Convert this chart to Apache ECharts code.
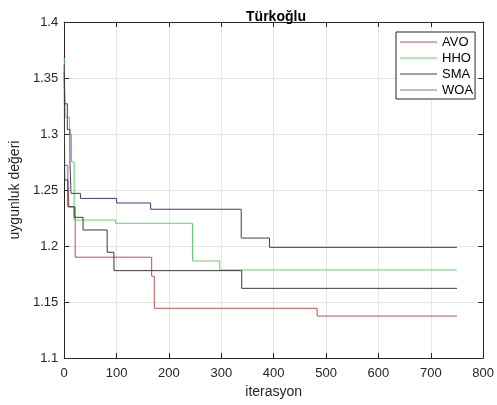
<!DOCTYPE html>
<html>
<head>
<meta charset="utf-8">
<script src="https://cdn.jsdelivr.net/npm/echarts@6/dist/echarts.min.js"></script>
<style>
  html, body { margin: 0; padding: 0; background: #ffffff; }
  #chart { width: 497px; height: 405px; }
</style>
</head>
<body>
<div id="chart"></div>
<script>
// Convergence curves: best fitness per iteration (step functions).
// Each pair gives the iteration where a new best value appears and that value.
const avoIter = [0, 7, 9, 21, 167, 172, 483, 750];
const avoVal  = [1.272, 1.257, 1.235, 1.190, 1.173, 1.1444, 1.1375, 1.1375];

const hhoIter = [0, 2, 10, 14, 19, 98, 245, 297, 750];
const hhoVal  = [1.368, 1.315, 1.300, 1.275, 1.2232, 1.2203, 1.1866, 1.1786, 1.1786];

const smaIter = [0, 1, 6, 11, 13, 31, 100, 165, 338, 392, 750];
const smaVal  = [1.355, 1.327, 1.304, 1.275, 1.247, 1.2425, 1.2384, 1.2328, 1.2071, 1.1988, 1.1988];

const woaIter = [0, 1, 7, 19, 36, 82, 95, 339, 750];
const woaVal  = [1.362, 1.259, 1.235, 1.2256, 1.2143, 1.1944, 1.178, 1.1622, 1.1622];

const seriesNames = ['AVO', 'HHO', 'SMA', 'WOA'];
const seriesColors = ['#c0504d', '#62d262', '#3c3c7c', '#3a3a3a'];
const legendColors = ['#c0504d', '#62d262', '#3c3c7c', '#808080'];

const xTicks = { min: 0, max: 800, step: 100 };
const yTicks = { min: 1.1, max: 1.4, step: 0.05 };

const pairs = (xs, ys) => xs.map((x, i) => [x, ys[i]]);
const curves = [pairs(avoIter, avoVal), pairs(hhoIter, hhoVal), pairs(smaIter, smaVal), pairs(woaIter, woaVal)];

const FONT = 'Liberation Sans, Arial, Helvetica, sans-serif';
const AXIS = '#262626';
const GRID = '#e6e6e6';

const axisLine = { show: true, onZero: false, lineStyle: { color: AXIS, width: 1 } };
const tickIn = { show: true, inside: true, length: 5, lineStyle: { color: AXIS } };

const chart = echarts.init(document.getElementById('chart'), null, { renderer: 'canvas' });
chart.setOption({
  backgroundColor: '#ffffff',
  animation: false,
  title: {
    text: 'Türkoğlu',
    left: 271, top: 5, textAlign: 'center',
    textStyle: { fontFamily: FONT, fontSize: 14, fontWeight: 'bold', color: '#000000' }
  },
  grid: { left: 58, right: 13, top: 22, bottom: 47, containLabel: false },
  legend: {
    show: true,
    orient: 'vertical',
    left: 396, top: 32,
    data: seriesNames.map((n, i) => ({ name: n, icon: 'rect', itemStyle: { color: legendColors[i] } })),
    backgroundColor: '#ffffff',
    borderColor: AXIS, borderWidth: 1, borderRadius: 0,
    padding: [3, 2, 2, 4],
    itemWidth: 37, itemHeight: 1, itemGap: 2,
    textStyle: { fontFamily: FONT, fontSize: 13, color: '#000000', lineHeight: 14 }
  },
  xAxis: [
    {
      type: 'value', position: 'bottom',
      min: xTicks.min, max: xTicks.max, interval: xTicks.step,
      name: 'iterasyon', nameLocation: 'middle', nameGap: 26,
      nameTextStyle: { fontFamily: FONT, fontSize: 14, color: AXIS },
      axisLine: axisLine, axisTick: tickIn,
      axisLabel: { fontFamily: FONT, fontSize: 13, color: AXIS, margin: 9 },
      splitLine: { show: true, lineStyle: { color: GRID, width: 1 } }
    },
    {
      type: 'value', position: 'top',
      min: xTicks.min, max: xTicks.max, interval: xTicks.step,
      axisLine: axisLine, axisTick: tickIn,
      axisLabel: { show: false }, splitLine: { show: false }
    }
  ],
  yAxis: [
    {
      type: 'value', position: 'left',
      min: yTicks.min, max: yTicks.max, interval: yTicks.step,
      name: 'uygunluk değeri', nameLocation: 'middle', nameGap: 35, nameRotate: 90,
      nameTextStyle: { fontFamily: FONT, fontSize: 14, color: AXIS },
      axisLine: axisLine, axisTick: tickIn,
      axisLabel: {
        fontFamily: FONT, fontSize: 13, color: AXIS, margin: 6,
        formatter: v => String(+v.toFixed(2))
      },
      splitLine: { show: true, lineStyle: { color: GRID, width: 1 } }
    },
    {
      type: 'value', position: 'right',
      min: yTicks.min, max: yTicks.max, interval: yTicks.step,
      axisLine: axisLine, axisTick: tickIn,
      axisLabel: { show: false }, splitLine: { show: false }
    }
  ],
  series: seriesNames.map((name, i) => ({
    name: name,
    type: 'line',
    step: 'end',
    xAxisIndex: 0, yAxisIndex: 0,
    data: curves[i],
    symbol: 'none',
    itemStyle: { color: seriesColors[i] },
    lineStyle: { color: seriesColors[i], width: 1 },
    z: 2
  }))
});
</script>
</body>
</html>
